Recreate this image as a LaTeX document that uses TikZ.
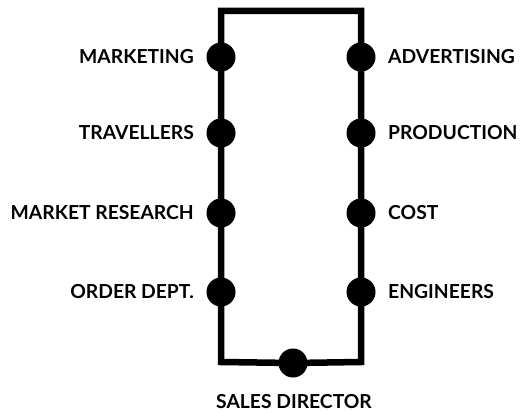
\documentclass[tikz,border=0pt]{standalone}
\usepackage{fontspec}
\setmainfont{Lato}
\begin{document}
\begin{tikzpicture}[x=1pt,y=-1pt,
  dot/.style={circle,fill=black,draw=none,minimum size=28pt,inner sep=0pt},
  wire/.style={line width=6.5pt,line join=miter,line cap=rect},
  lab/.style={font=\bfseries\fontsize{19.3}{19.3}\selectfont,inner sep=0pt}]
\useasboundingbox (0,0) rectangle (522,412);
\coordinate (tl) at (221,11);
\coordinate (tr) at (361,11);
\coordinate (bl) at (221,362);
\coordinate (br) at (361,362);
\node[dot] (l1) at (221,57) {};
\node[dot] (l2) at (221,133) {};
\node[dot] (l3) at (221,213) {};
\node[dot] (l4) at (221,292) {};
\node[dot] (r1) at (361,57) {};
\node[dot] (r2) at (361,133) {};
\node[dot] (r3) at (361,213) {};
\node[dot] (r4) at (361,292) {};
\node[dot] (sd) at (293,363) {};
\draw[wire] (tl) -- (tr) -- (r1.center) -- (r2.center) -- (r3.center) -- (r4.center) -- (br) -- (sd.center) -- (bl) -- (l4.center) -- (l3.center) -- (l2.center) -- (l1.center) -- cycle;
\foreach \n in {l1,l2,l3,l4,r1,r2,r3,r4,sd} \fill (\n) circle (14.5pt);
\node[lab,anchor=east] at (194,57) {MARKETING};
\node[lab,anchor=east] at (194,133) {TRAVELLERS};
\node[lab,anchor=east] at (194,213) {MARKET RESEARCH};
\node[lab,anchor=east] at (194,292) {ORDER DEPT.};
\node[lab,anchor=west] at (388,57) {ADVERTISING};
\node[lab,anchor=west] at (388,133) {PRODUCTION};
\node[lab,anchor=west] at (388,213) {COST};
\node[lab,anchor=west] at (388,292) {ENGINEERS};
\node[lab] at (294,402) {SALES DIRECTOR};
\end{tikzpicture}
\end{document}
